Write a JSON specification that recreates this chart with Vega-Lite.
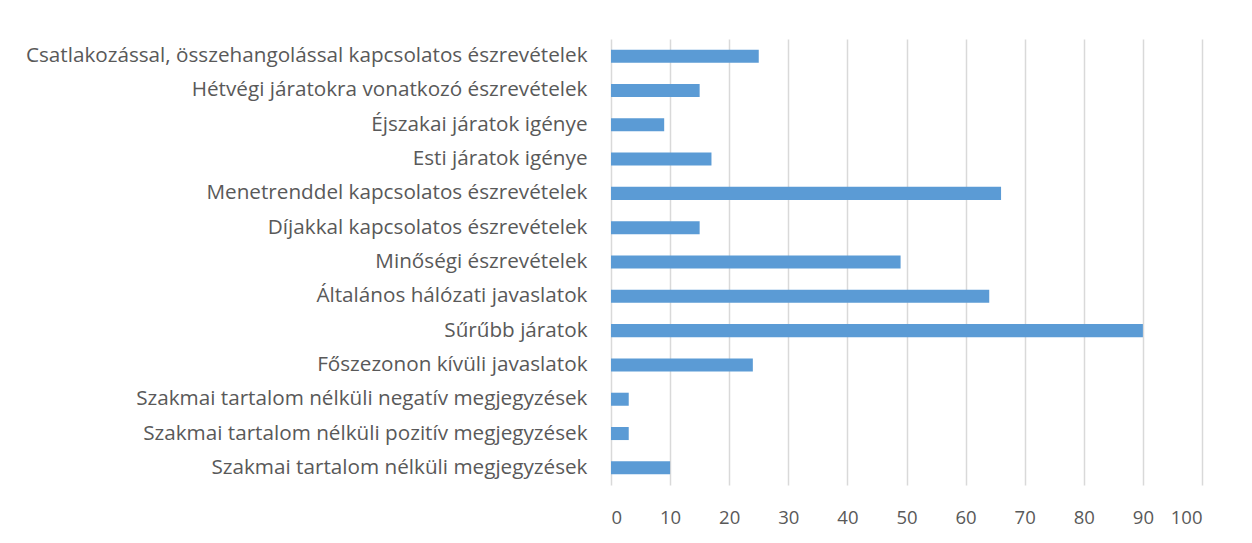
{
  "$schema": "https://vega.github.io/schema/vega-lite/v6.json",
  "autosize": "none",
  "width": 591,
  "height": 446,
  "padding": {"left": 611, "top": 39, "right": 50, "bottom": 58},
  "background": "white",
  "config": {"view": {"stroke": null}, "font": "Open Sans"},
  "data": {"values": [
    {"cat": "Csatlakozással, összehangolással kapcsolatos észrevételek", "v": 25},
    {"cat": "Hétvégi járatokra vonatkozó észrevételek", "v": 15},
    {"cat": "Éjszakai járatok igénye", "v": 9},
    {"cat": "Esti járatok igénye", "v": 17},
    {"cat": "Menetrenddel kapcsolatos észrevételek", "v": 66},
    {"cat": "Díjakkal kapcsolatos észrevételek", "v": 15},
    {"cat": "Minőségi észrevételek", "v": 49},
    {"cat": "Általános hálózati javaslatok", "v": 64},
    {"cat": "Sűrűbb járatok", "v": 90},
    {"cat": "Főszezonon kívüli javaslatok", "v": 24},
    {"cat": "Szakmai tartalom nélküli negatív megjegyzések", "v": 3},
    {"cat": "Szakmai tartalom nélküli pozitív megjegyzések", "v": 3},
    {"cat": "Szakmai tartalom nélküli megjegyzések", "v": 10}
  ]},
  "mark": {"type": "bar", "color": "#5B9BD5"},
  "encoding": {
    "y": {"field": "cat", "type": "nominal", "sort": null,
      "scale": {"paddingInner": 0.62, "paddingOuter": 0.31},
      "axis": {"title": null, "domain": false, "ticks": false, "labelPadding": 24, "labelLimit": 700,
        "labelFontSize": 20.7, "labelColor": "#595959", "labelFont": "Open Sans"}},
    "x": {"field": "v", "type": "quantitative",
      "scale": {"domain": [0, 100], "nice": false},
      "axis": {"title": null, "domain": false, "ticks": false, "values": [0,10,20,30,40,50,60,70,80,90,100],
        "labelPadding": 23, "labelFontSize": 18.5, "labelColor": "#595959", "labelFont": "Open Sans",
        "grid": true, "gridColor": "#D9D9D9", "gridWidth": 1.5}}
  }
}
